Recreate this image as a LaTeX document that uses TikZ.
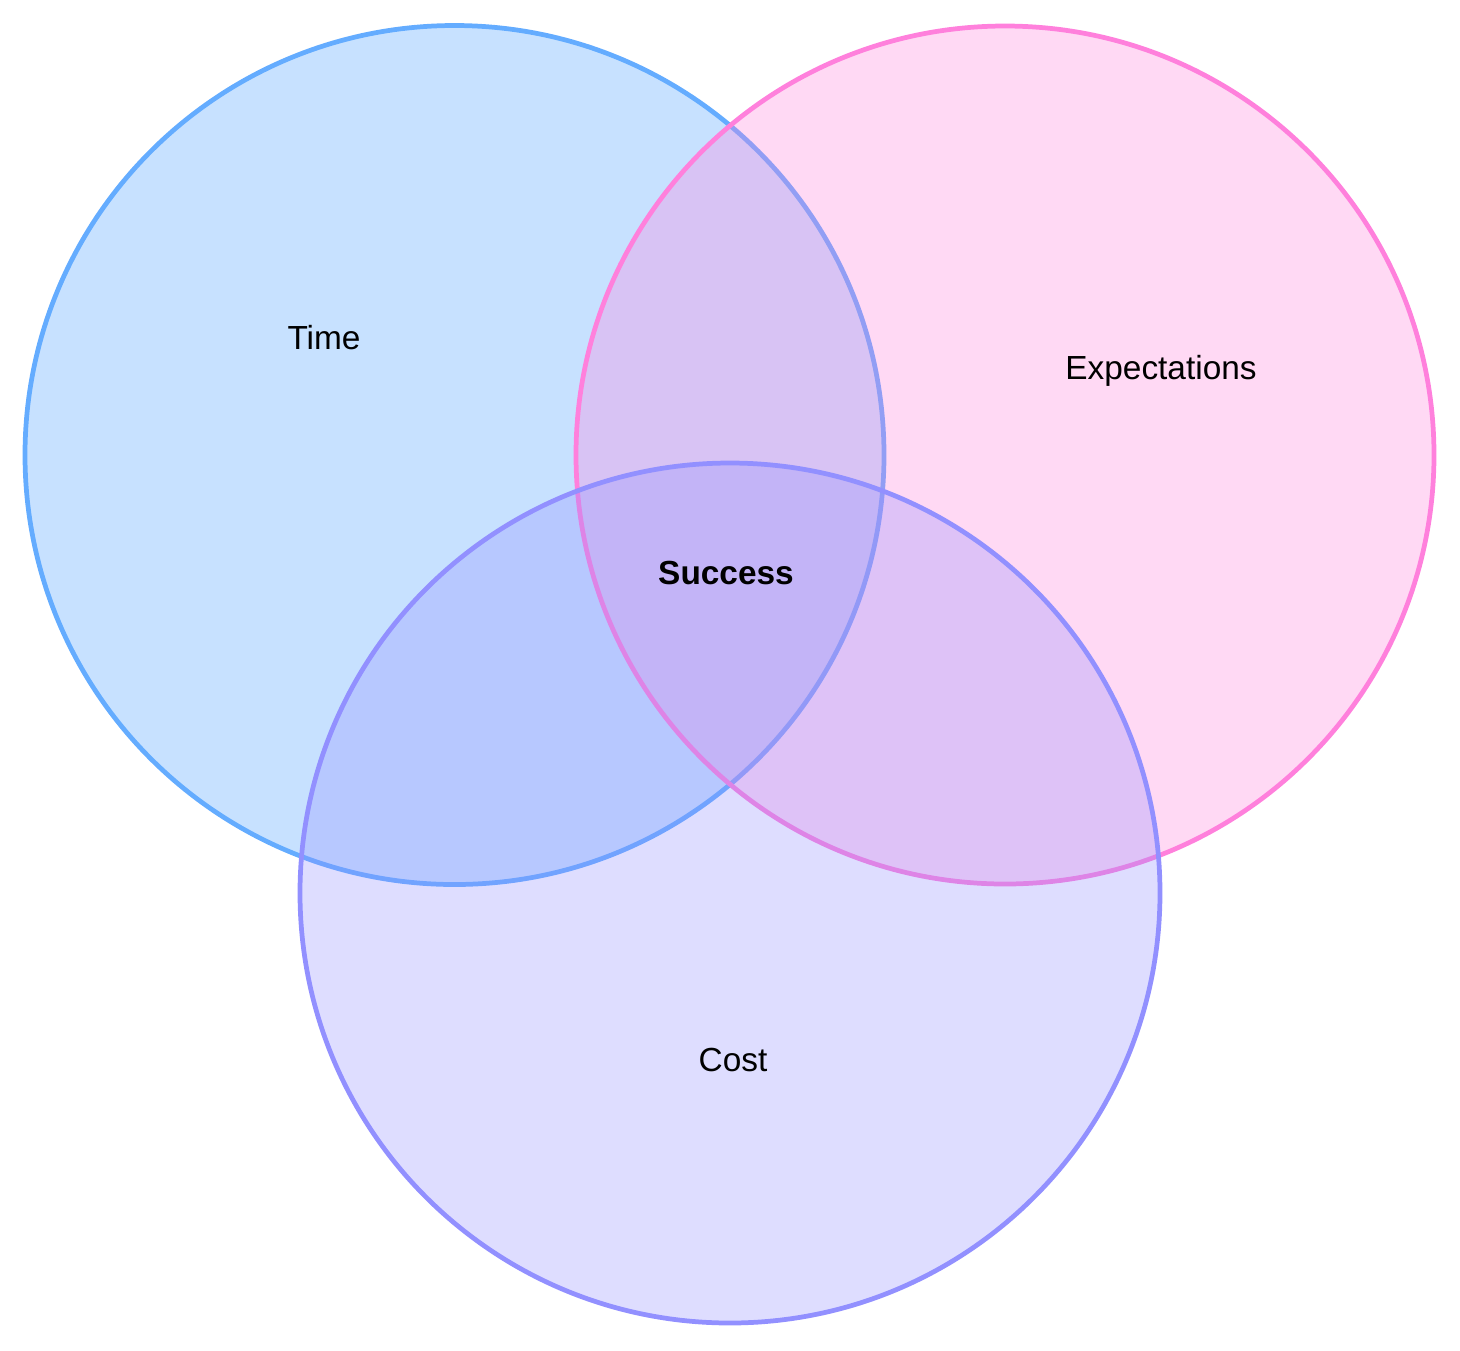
\documentclass[tikz,border=0pt]{standalone}
\usepackage{fontspec}
\setmainfont{Liberation Sans}
\usetikzlibrary{positioning}

\definecolor{timeblue}{RGB}{100,172,255}
\definecolor{expectpink}{RGB}{255,128,220}
\definecolor{costviolet}{RGB}{146,144,255}

\tikzset{
    setcircle/.style={line width=1.35pt, fill opacity=#1},
    setlabel/.style={font=\fontsize{9.5}{11}\selectfont, text=black},
}

\begin{document}
\begin{tikzpicture}
    \useasboundingbox (0,0) rectangle (14.6,-13.5);

    % Sets
    \draw[setcircle=0.36, draw=timeblue, fill=timeblue] (4.545,-4.55) circle (4.295);
    \draw[setcircle=0.30, draw=expectpink, fill=expectpink] (10.05,-4.55) circle (4.29);
    \draw[setcircle=0.30, draw=costviolet, fill=costviolet] (7.30,-8.93) circle (4.30);

    % Labels
    \node[setlabel] (time) at (3.24,-3.38) {Time};
    \node[setlabel] (expect) at (11.61,-3.71) {Expectations};
    \node[setlabel] (cost) at (7.33,-10.60) {Cost};
    \node[setlabel, font=\fontsize{9.5}{11}\selectfont\bfseries] (success) at (7.26,-5.73) {Success};
\end{tikzpicture}
\end{document}
